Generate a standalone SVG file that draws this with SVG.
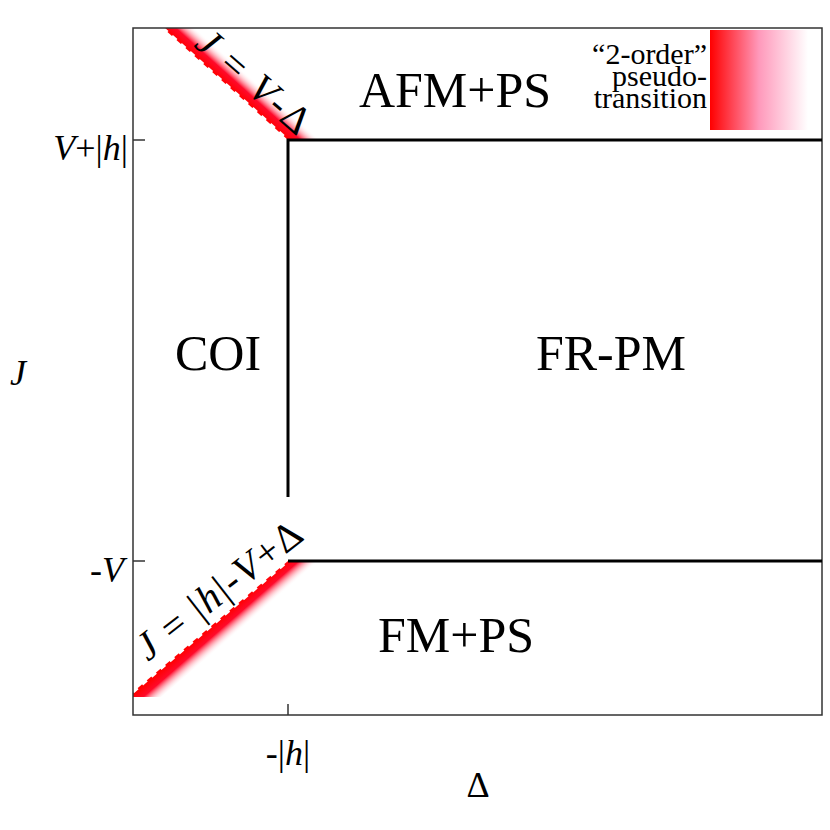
<svg xmlns="http://www.w3.org/2000/svg" width="830" height="830" viewBox="0 0 830 830">
<style>
.t{font-family:"Liberation Serif","Times New Roman",serif;fill:#000}
.i{font-style:italic}
.big{font-size:50px}
.ax{font-size:36px}
.dg{font-size:40px}
.lg{font-size:30px}
.pl{stroke:#000;stroke-width:3;fill:none}
.fr{stroke:#333;stroke-width:1.5;fill:none}
.dash{stroke:#fff;stroke-width:3;stroke-dasharray:6 6;fill:none}
</style>
<defs>
<linearGradient id="gU" gradientUnits="userSpaceOnUse" x1="225" y1="84" x2="239.7" y2="67.6">
<stop offset="0" stop-color="#ff0000"/><stop offset="0.4" stop-color="#ff0a2a"/><stop offset="1" stop-color="#fff" stop-opacity="0"/>
</linearGradient>
<linearGradient id="gL" gradientUnits="userSpaceOnUse" x1="210" y1="627" x2="224.5" y2="643.6">
<stop offset="0" stop-color="#ff0000"/><stop offset="0.4" stop-color="#ff0a2a"/><stop offset="1" stop-color="#fff" stop-opacity="0"/>
</linearGradient>
<linearGradient id="gK" x1="0" y1="0" x2="1" y2="0">
<stop offset="0" stop-color="#ff0000"/><stop offset="0.5" stop-color="#ff99bb"/><stop offset="1" stop-color="#fff"/>
</linearGradient>
</defs>
<g id="bands">
<polygon points="163,28 288,140 321,140 196,28" fill="url(#gU)"/>
<line class="dash" x1="163" y1="28" x2="288" y2="140"/>
<polygon points="133,692 288,561 321,561 161,697 133,697" fill="url(#gL)"/>
<line class="dash" x1="133" y1="692" x2="288" y2="561"/>
</g>
<g id="legend">
<rect x="710" y="30" width="98" height="100" fill="url(#gK)"/>
<text class="t lg" x="707" y="64" text-anchor="end">“2-order”</text>
<text class="t lg" x="707" y="86" text-anchor="end">pseudo-</text>
<text class="t lg" x="707" y="108" text-anchor="end">transition</text>
</g>
<g id="frame">
<rect class="fr" x="133" y="28" width="689" height="687"/>
<line class="fr" x1="133" y1="140" x2="145" y2="140"/>
<line class="fr" x1="133" y1="561" x2="145" y2="561"/>
<line class="fr" x1="288" y1="715" x2="288" y2="704"/>
</g>
<g id="connectors">
<polyline class="pl" points="822,140 288,140 288,497"/>
<line class="pl" x1="288" y1="561" x2="822" y2="561"/>
</g>
<g id="AFM"><text class="t big" x="455" y="107" text-anchor="middle">AFM+PS</text></g>
<g id="COI"><text class="t big" x="218" y="370" text-anchor="middle">COI</text></g>
<g id="FRPM"><text class="t big" x="611" y="370" text-anchor="middle">FR-PM</text></g>
<g id="FM"><text class="t big" x="456" y="652" text-anchor="middle">FM+PS</text></g>
<g id="labels">
<text class="t ax i" x="10" y="385">J</text>
<text class="t ax" x="478" y="797" text-anchor="middle">Δ</text>
<text class="t ax" x="128" y="160" text-anchor="end"><tspan class="i">V</tspan>+|<tspan class="i">h</tspan>|</text>
<text class="t ax" x="124" y="582" text-anchor="end">-<tspan class="i">V</tspan></text>
<text class="t ax" x="288" y="765" text-anchor="middle">-|<tspan class="i">h</tspan>|</text>
<text class="t dg" transform="translate(193,46) rotate(41)" textLength="138" lengthAdjust="spacing"><tspan class="i">J</tspan> = <tspan class="i">V</tspan>-Δ</text>
<text class="t dg" transform="translate(148,662) rotate(-38)" textLength="200" lengthAdjust="spacing"><tspan class="i">J</tspan> = |<tspan class="i">h</tspan>|-<tspan class="i">V</tspan>+Δ</text>
</g>
</svg>
